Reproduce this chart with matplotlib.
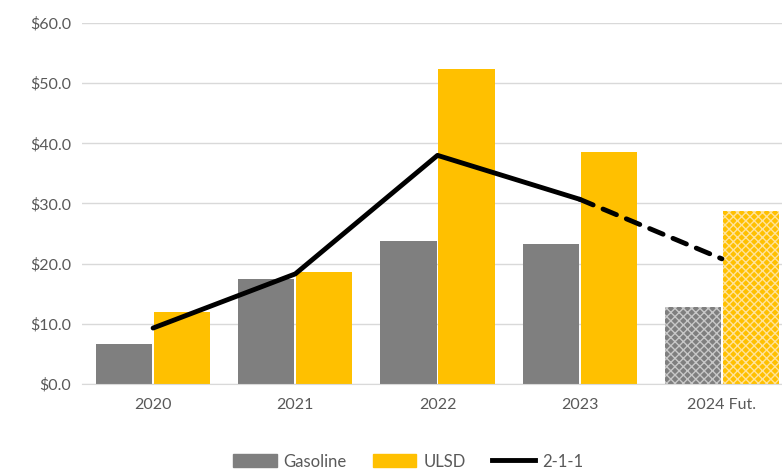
import matplotlib.pyplot as plt
import numpy as np
from matplotlib.patches import Patch
from matplotlib.lines import Line2D

plt.rcParams['font.family'] = ['Lato', 'DejaVu Sans']
plt.rcParams['hatch.linewidth'] = 1.0

years = ["2020", "2021", "2022", "2023", "2024 Fut."]
gasoline = [6.6, 17.4, 23.8, 23.3, 12.8]
ulsd = [12.0, 18.6, 52.3, 38.5, 28.7]
crack_211 = [9.3, 18.3, 38.0, 30.7, 20.8]

gray = "#7F7F7F"
gold = "#FFC000"
txt = "#595959"

fig = plt.figure(figsize=(7.82, 4.70), dpi=100)
ax = fig.add_axes([82 / 782, 1 - 384 / 470, 711 / 782, 361 / 470])

x = np.arange(len(years))
w = 0.395
for i in range(len(years)):
    fut = years[i].endswith("Fut.")
    ax.bar(x[i] - w / 2 - 0.007, gasoline[i], w, color=gray, edgecolor="#C8C8C8" if fut else gray,
           linewidth=0, hatch="xxxx" if fut else None, zorder=2)
    ax.bar(x[i] + w / 2 + 0.007, ulsd[i], w, color=gold, edgecolor="#FFE39A" if fut else gold,
           linewidth=0, hatch="xxxx" if fut else None, zorder=2)

ax.plot(x[:4], crack_211[:4], color="black", lw=3.5, zorder=3, solid_capstyle="round")
ax.plot(x[3:], crack_211[3:], color="black", lw=3.5, ls=(0, (3, 2.2)), zorder=3, dash_capstyle="round")

ax.set_xlim(-0.5, len(years) - 0.5)
ax.set_ylim(0, 60)
ax.set_yticks(range(0, 61, 10))
ax.set_yticklabels(["$%.1f" % v for v in range(0, 61, 10)])
ax.set_xticks(x)
ax.set_xticklabels(years)
ax.grid(axis="y", color="#D9D9D9", lw=1, zorder=0)
ax.set_axisbelow(True)
for s in ["top", "right", "left"]:
    ax.spines[s].set_visible(False)
ax.spines["bottom"].set_color("#D9D9D9")
ax.tick_params(length=0, colors=txt, labelsize=11.5, pad=8)
ax.tick_params(axis="x", pad=10)

handles = [Patch(color=gray), Patch(color=gold), Line2D([0], [0], color="black", lw=3.5)]
fig.legend(handles, ["Gasoline", "ULSD", "2-1-1"], loc="center", bbox_to_anchor=(0.522, 0.018),
           ncol=3, frameon=False, fontsize=12, labelcolor=txt, handlelength=2.6,
           handleheight=0.8, columnspacing=1.6, handletextpad=0.4)

fig.savefig("out.png", dpi=100)
